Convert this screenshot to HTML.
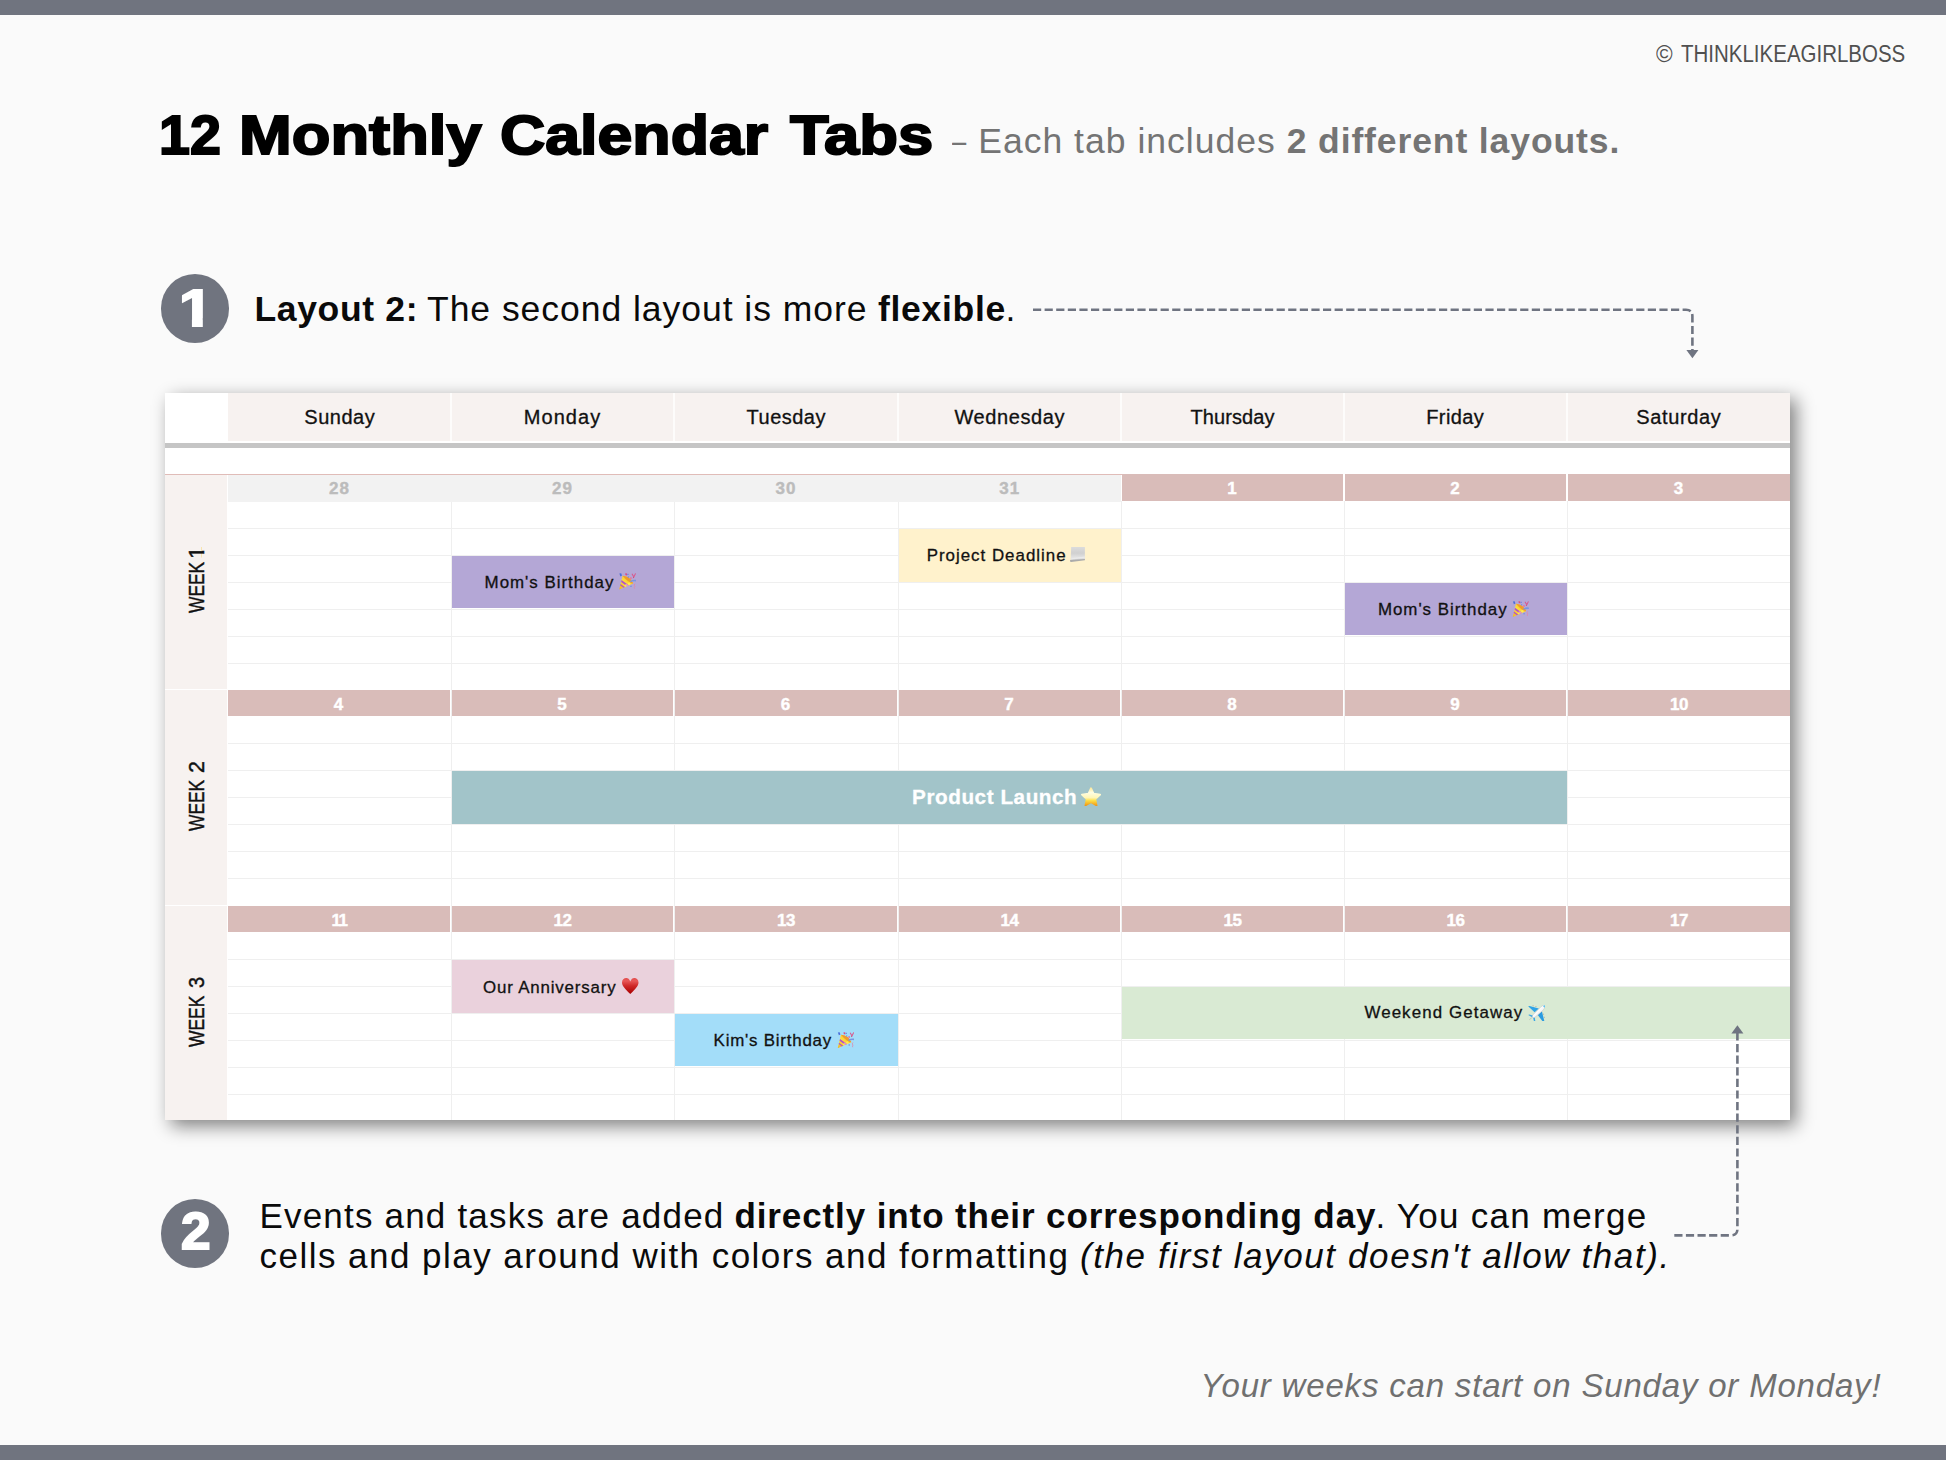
<!DOCTYPE html>
<html lang="en">
<head>
<meta charset="utf-8">
<title>12 Monthly Calendar Tabs</title>
<style>
html,body{margin:0;padding:0;}
body{width:1946px;height:1460px;position:relative;overflow:hidden;background:#fafafa;font-family:"Liberation Sans",sans-serif;color:#000;}
.bar{position:absolute;left:0;width:1946px;background:#70747f;}
#topbar{top:0;height:14.6px;}
#botbar{top:1445.4px;height:14.6px;}
.t{position:absolute;white-space:nowrap;line-height:1;display:block;}
.ln{margin:0;padding:0;font-size:inherit;font-weight:normal;}
.cp{color:#505050;transform-origin:0 50%;}
.ti{font-weight:bold;transform-origin:0 50%;-webkit-text-stroke:2px #000;}
.su{color:#747474;transform-origin:0 50%;}
.b{font-weight:bold;}
.i{font-style:italic;}
.bd{color:#0a0a0a;}
.ft{color:#707070;font-style:italic;}
.circle{position:absolute;width:68.6px;height:68.8px;border-radius:50%;background:#70747f;}
.cn{color:#fff;font-weight:bold;-webkit-text-stroke:2px #fff;transform-origin:0 50%;}
#c1{left:160.8px;top:273.8px;}
#c2{left:160.8px;top:1198.8px;}
#tbl{position:absolute;left:165px;top:393.4px;width:1625px;height:726.6px;background:#fff;box-shadow:6px 6px 17px rgba(0,0,0,0.49);}
#tbl div{position:absolute;box-sizing:border-box;}
#tbl .dh{background:#f7f2f0;}
#tbl .dt{color:#111;-webkit-text-stroke:0.3px #111;}
#tbl .et{-webkit-text-stroke:0.3px;}
#tbl .gl{background:#efefef;}
#tbl .wk{background:#f7f2f0;}
#tbl .wr{width:0;height:0;transform:rotate(-90deg);transform-origin:0 0;}
#tbl .wt{color:#111;transform-origin:0 50%;-webkit-text-stroke:0.45px #111;}
#tbl .dg{background:#f2f2f2;color:#bcbcbc;font-weight:bold;font-size:17px;text-align:center;line-height:27px;letter-spacing:1px;-webkit-text-stroke:0.4px #bcbcbc;}
#tbl .dp{background:#d9bcb9;color:#fff;font-weight:bold;font-size:17px;text-align:center;line-height:30px;letter-spacing:1px;-webkit-text-stroke:0.4px #fff;}
#tbl .em{position:absolute;}
#arrows{position:absolute;left:0;top:0;width:1946px;height:1460px;pointer-events:none;}
</style>
</head>
<body>
<div class="bar" id="topbar"></div>
<div class="bar" id="botbar"></div>
<div class="ln" id="copy"><span class="t cp" style="left:1655.80px;top:41.66px;font-size:24.5px;transform:scaleX(0.9222);">©</span> <span class="t cp" style="left:1681.00px;top:41.66px;font-size:24.5px;transform:scaleX(0.8362);">THINKLIKEAGIRLBOSS</span></div>
<h1 class="ln" id="title"><span class="t ti" style="left:158.64px;top:106.84px;font-size:56.3px;transform:scaleX(0.9878);">12</span> <span class="t ti" style="left:239.13px;top:106.84px;font-size:56.3px;transform:scaleX(1.1245);">Monthly</span> <span class="t ti" style="left:499.77px;top:106.84px;font-size:56.3px;transform:scaleX(1.1130);">Calendar</span> <span class="t ti" style="left:789.70px;top:106.84px;font-size:56.3px;transform:scaleX(1.1264);">Tabs</span></h1>
<div class="ln" id="sub"><span class="t su" style="left:952.20px;top:123.65px;font-size:35.5px;transform:scaleX(0.7200);">–</span> <span class="t su" style="left:978.20px;top:123.65px;font-size:35.5px;letter-spacing:1.026px;">Each tab includes</span> <span class="t su b" style="left:1286.70px;top:123.65px;font-size:35.5px;letter-spacing:0.892px;">2 different layouts.</span></div>
<div class="ln" id="l1"><span class="t bd b" style="left:254.40px;top:292.15px;font-size:35.5px;letter-spacing:0.666px;">Layout 2:</span> <span class="t bd" style="left:427.00px;top:292.15px;font-size:35.5px;letter-spacing:0.962px;">The second layout is more</span> <span class="t bd b" style="left:878.00px;top:292.15px;font-size:35.5px;letter-spacing:0.717px;">flexible</span> <span class="t bd" style="left:1005.50px;top:292.15px;font-size:35.5px;letter-spacing:0.000px;">.</span></div>
<div class="ln" id="p2a"><span class="t bd" style="left:259.40px;top:1197.97px;font-size:35px;letter-spacing:1.199px;">Events and tasks are added</span> <span class="t bd b" style="left:734.40px;top:1197.97px;font-size:35px;letter-spacing:0.899px;">directly into their corresponding day</span> <span class="t bd" style="left:1375.50px;top:1197.97px;font-size:35px;letter-spacing:1.262px;">. You can merge</span></div>
<div class="ln" id="p2b"><span class="t bd" style="left:259.50px;top:1237.97px;font-size:35px;letter-spacing:1.472px;">cells and play around with colors and formatting</span> <span class="t bd i" style="left:1079.90px;top:1237.97px;font-size:35px;letter-spacing:1.604px;">(the first layout doesn&#39;t allow that).</span></div>
<div class="ln" id="foot"><span class="t ft" style="left:1200.50px;top:1369.07px;font-size:33px;letter-spacing:0.814px;">Your weeks can start on Sunday or Monday!</span></div>
<div class="circle" id="c1"></div>
<div id="tbl">
<div class="dh" style="left:63px;top:0px;width:223px;height:47.9px;"></div>
<div class="dh" style="left:286px;top:0px;width:223px;height:47.9px;"></div>
<div class="dh" style="left:509px;top:0px;width:224px;height:47.9px;"></div>
<div class="dh" style="left:733px;top:0px;width:223px;height:47.9px;"></div>
<div class="dh" style="left:956px;top:0px;width:223px;height:47.9px;"></div>
<div class="dh" style="left:1179px;top:0px;width:223px;height:47.9px;"></div>
<div class="dh" style="left:1402px;top:0px;width:223px;height:47.9px;"></div>
<div style="left:285.4px;top:0px;width:1.5px;height:47.9px;background:rgba(255,255,255,.75);"></div>
<div style="left:508.4px;top:0px;width:1.5px;height:47.9px;background:rgba(255,255,255,.75);"></div>
<div style="left:732.4px;top:0px;width:1.5px;height:47.9px;background:rgba(255,255,255,.75);"></div>
<div style="left:955.4px;top:0px;width:1.5px;height:47.9px;background:rgba(255,255,255,.75);"></div>
<div style="left:1178.4px;top:0px;width:1.5px;height:47.9px;background:rgba(255,255,255,.75);"></div>
<div style="left:1401.4px;top:0px;width:1.5px;height:47.9px;background:rgba(255,255,255,.75);"></div>
<div style="left:0px;top:49.6px;width:1625px;height:4.7px;background:#c5c5c5;"></div>
<div style="left:0px;top:80.5px;width:957px;height:1.2px;background:#e0bcb8;"></div>
<div class="wk" style="left:0px;top:81.6px;width:62.3px;height:214.5px;"></div>
<div class="wr" style="left:15px;top:296.6px;"><div class="t wt" style="left:77.10px;top:5.88px;font-size:22px;transform:scaleX(0.7894);">WEEK</div><div class="t wt" style="left:130.84px;top:5.88px;font-size:22px;transform:scaleX(1.0500);clip-path:polygon(-3px -3px,15px -3px,15px 16.05px,7.8px 16.05px,7.8px 25px,5.1px 25px,5.1px 16.05px,-3px 16.05px);">1</div></div>
<div class="wk" style="left:0px;top:297.1px;width:62.3px;height:214.5px;"></div>
<div class="wr" style="left:15px;top:511.6px;"><div class="t wt" style="left:74.20px;top:5.88px;font-size:22px;transform:scaleX(0.7894);">WEEK</div><div class="t wt" style="left:131.53px;top:5.88px;font-size:22px;transform:scaleX(0.9727);">2</div></div>
<div class="wk" style="left:0px;top:512.9px;width:62.3px;height:213.7px;"></div>
<div class="wr" style="left:15px;top:727.6px;"><div class="t wt" style="left:74.10px;top:5.88px;font-size:22px;transform:scaleX(0.7925);">WEEK</div><div class="t wt" style="left:132.50px;top:5.88px;font-size:22px;transform:scaleX(0.9083);">3</div></div>
<div class="gl" style="left:63px;top:134.6px;width:1562px;height:1px;"></div>
<div class="gl" style="left:63px;top:161.6px;width:1562px;height:1px;"></div>
<div class="gl" style="left:63px;top:188.6px;width:1562px;height:1px;"></div>
<div class="gl" style="left:63px;top:215.6px;width:1562px;height:1px;"></div>
<div class="gl" style="left:63px;top:242.6px;width:1562px;height:1px;"></div>
<div class="gl" style="left:63px;top:269.6px;width:1562px;height:1px;"></div>
<div class="gl" style="left:63px;top:349.6px;width:1562px;height:1px;"></div>
<div class="gl" style="left:63px;top:376.6px;width:1562px;height:1px;"></div>
<div class="gl" style="left:63px;top:403.6px;width:1562px;height:1px;"></div>
<div class="gl" style="left:63px;top:430.6px;width:1562px;height:1px;"></div>
<div class="gl" style="left:63px;top:457.6px;width:1562px;height:1px;"></div>
<div class="gl" style="left:63px;top:484.6px;width:1562px;height:1px;"></div>
<div class="gl" style="left:63px;top:565.6px;width:1562px;height:1px;"></div>
<div class="gl" style="left:63px;top:592.6px;width:1562px;height:1px;"></div>
<div class="gl" style="left:63px;top:619.6px;width:1562px;height:1px;"></div>
<div class="gl" style="left:63px;top:646.6px;width:1562px;height:1px;"></div>
<div class="gl" style="left:63px;top:673.6px;width:1562px;height:1px;"></div>
<div class="gl" style="left:63px;top:700.6px;width:1562px;height:1px;"></div>
<div class="gl" style="left:285.6px;top:107.6px;width:1px;height:619px;"></div>
<div class="gl" style="left:508.6px;top:107.6px;width:1px;height:619px;"></div>
<div class="gl" style="left:732.6px;top:107.6px;width:1px;height:619px;"></div>
<div class="gl" style="left:955.6px;top:107.6px;width:1px;height:619px;"></div>
<div class="gl" style="left:1178.6px;top:107.6px;width:1px;height:619px;"></div>
<div class="gl" style="left:1401.6px;top:107.6px;width:1px;height:619px;"></div>
<div class="dg" style="left:63px;top:81.6px;width:223px;height:26.8px;">28</div>
<div class="dg" style="left:286px;top:81.6px;width:223px;height:26.8px;">29</div>
<div class="dg" style="left:509px;top:81.6px;width:224px;height:26.8px;">30</div>
<div class="dg" style="left:733px;top:81.6px;width:223.4px;height:26.8px;">31</div>
<div class="dp" style="left:957px;top:80.6px;width:221px;height:26.7px;">1</div>
<div class="dp" style="left:1180px;top:80.6px;width:221px;height:26.7px;">2</div>
<div class="dp" style="left:1403px;top:80.6px;width:222px;height:26.7px;">3</div>
<div class="dp" style="left:63px;top:296.6px;width:222px;height:26.3px;">4</div>
<div class="dp" style="left:287px;top:296.6px;width:221px;height:26.3px;">5</div>
<div class="dp" style="left:510px;top:296.6px;width:222px;height:26.3px;">6</div>
<div class="dp" style="left:734px;top:296.6px;width:221px;height:26.3px;">7</div>
<div class="dp" style="left:957px;top:296.6px;width:221px;height:26.3px;">8</div>
<div class="dp" style="left:1180px;top:296.6px;width:221px;height:26.3px;">9</div>
<div class="dp" style="left:1403px;top:296.6px;width:222px;height:26.3px;letter-spacing:-0.4px;">10</div>
<div class="dp" style="left:63px;top:512.6px;width:222px;height:26.3px;letter-spacing:-1.5px;">11</div>
<div class="dp" style="left:287px;top:512.6px;width:221px;height:26.3px;letter-spacing:-0.4px;">12</div>
<div class="dp" style="left:510px;top:512.6px;width:222px;height:26.3px;letter-spacing:-0.4px;">13</div>
<div class="dp" style="left:734px;top:512.6px;width:221px;height:26.3px;letter-spacing:-0.4px;">14</div>
<div class="dp" style="left:957px;top:512.6px;width:221px;height:26.3px;letter-spacing:-0.4px;">15</div>
<div class="dp" style="left:1180px;top:512.6px;width:221px;height:26.3px;letter-spacing:-0.4px;">16</div>
<div class="dp" style="left:1403px;top:512.6px;width:222px;height:26.3px;letter-spacing:-0.4px;">17</div>
<div class="ev" style="left:287px;top:162.6px;width:221.8px;height:52.5px;background:#b4a7d6;"></div>
<svg class="em" style="left:453.9px;top:180px;width:17.2px;height:17px" viewBox="0 0 172 170"><defs><linearGradient id="g1" x1="0" y1="1" x2="1" y2="0"><stop offset="0" stop-color="#f0b21e"/><stop offset=".45" stop-color="#fde23e"/><stop offset=".8" stop-color="#f6b52a"/><stop offset="1" stop-color="#ee7a30"/></linearGradient></defs><path d="M2 166 L36 28 Q112 36 142 106 Z" fill="url(#g1)"/><path d="M36 28 Q112 36 142 106 Q96 100 36 28Z" fill="#f09a2c"/><path d="M21 90 L26 71 L98 123 L79 133 Z" fill="#b455c4"/><path d="M12 124 L16 109 L58 141 L44 148 Z" fill="#b455c4"/><path d="M60 112 L72 108 L98 123 L79 133Z" fill="#f0a0d0" opacity=".8"/><circle cx="102" cy="108" r="13" fill="#fff65a" opacity=".7"/><circle cx="66" cy="128" r="10" fill="#fff65a" opacity=".6"/><path d="M4 6 L22 2 L30 26 L14 34Z" fill="#4a6fdc"/><path d="M60 4 L78 2 L82 24 L66 22Z" fill="#d84c86"/><rect x="84" y="8" width="11" height="12" fill="#5a7ee0"/><rect x="88" y="36" width="12" height="9" fill="#5a7ee0"/><path d="M130 8 L148 40 L166 4" stroke="#d95a8e" stroke-width="11" fill="none" stroke-linejoin="round"/><path d="M148 40 L142 52" stroke="#c2557f" stroke-width="10"/><rect x="112" y="42" width="14" height="20" fill="#ea6f9a"/><path d="M110 80 Q140 62 170 68 L170 84 Q140 80 114 92Z" fill="#7896e2"/><rect x="113" y="127" width="14" height="12" fill="#6a8ee0"/><path d="M158 108 q-12 14 0 26 q-8 10 -2 22" stroke="#e383a6" stroke-width="8" fill="none"/></svg>
<div class="ev" style="left:734px;top:135.6px;width:221.8px;height:52.7px;background:#fff2cc;"></div>
<svg class="em" style="left:905.1px;top:153.7px;width:15.1px;height:15.1px" viewBox="0 0 151 151"><defs><linearGradient id="g2" x1="0" y1="0" x2="0" y2="1"><stop offset="0" stop-color="#dcdcdc"/><stop offset=".45" stop-color="#d0d0d0"/><stop offset=".8" stop-color="#e4e4e4"/><stop offset="1" stop-color="#cfcfcf"/></linearGradient></defs><path d="M12 0 H149 V128 L6 136 Z" fill="url(#g2)"/><path d="M0 131 L149 119 V133 L4 151 Z" fill="#ababab"/><path d="M12 112 L149 96 V108 L10 124Z" fill="#ececec" opacity=".8"/></svg>
<div class="ev" style="left:1180px;top:189.6px;width:221.8px;height:52.3px;background:#b4a7d6;"></div>
<svg class="em" style="left:1347.1px;top:207.3px;width:17.6px;height:16.3px" viewBox="0 0 172 170"><defs><linearGradient id="g3" x1="0" y1="1" x2="1" y2="0"><stop offset="0" stop-color="#f0b21e"/><stop offset=".45" stop-color="#fde23e"/><stop offset=".8" stop-color="#f6b52a"/><stop offset="1" stop-color="#ee7a30"/></linearGradient></defs><path d="M2 166 L36 28 Q112 36 142 106 Z" fill="url(#g3)"/><path d="M36 28 Q112 36 142 106 Q96 100 36 28Z" fill="#f09a2c"/><path d="M21 90 L26 71 L98 123 L79 133 Z" fill="#b455c4"/><path d="M12 124 L16 109 L58 141 L44 148 Z" fill="#b455c4"/><path d="M60 112 L72 108 L98 123 L79 133Z" fill="#f0a0d0" opacity=".8"/><circle cx="102" cy="108" r="13" fill="#fff65a" opacity=".7"/><circle cx="66" cy="128" r="10" fill="#fff65a" opacity=".6"/><path d="M4 6 L22 2 L30 26 L14 34Z" fill="#4a6fdc"/><path d="M60 4 L78 2 L82 24 L66 22Z" fill="#d84c86"/><rect x="84" y="8" width="11" height="12" fill="#5a7ee0"/><rect x="88" y="36" width="12" height="9" fill="#5a7ee0"/><path d="M130 8 L148 40 L166 4" stroke="#d95a8e" stroke-width="11" fill="none" stroke-linejoin="round"/><path d="M148 40 L142 52" stroke="#c2557f" stroke-width="10"/><rect x="112" y="42" width="14" height="20" fill="#ea6f9a"/><path d="M110 80 Q140 62 170 68 L170 84 Q140 80 114 92Z" fill="#7896e2"/><rect x="113" y="127" width="14" height="12" fill="#6a8ee0"/><path d="M158 108 q-12 14 0 26 q-8 10 -2 22" stroke="#e383a6" stroke-width="8" fill="none"/></svg>
<div class="ev" style="left:287px;top:378.1px;width:1114.8px;height:52.5px;background:#a2c4c9;"></div>
<svg class="em" style="left:915.7px;top:393.2px;width:20.5px;height:19.8px" viewBox="0 0 205 198"><defs><linearGradient id="g4" x1="0" y1="0" x2="0" y2="1"><stop offset="0" stop-color="#fdeaa0"/><stop offset=".25" stop-color="#fffde2"/><stop offset=".55" stop-color="#fff6b8"/><stop offset=".72" stop-color="#fddf45"/><stop offset="1" stop-color="#f19a16"/></linearGradient></defs><path d="M100 12 L126 66 L192 76 L143 122 L156 184 L100 153 L44 184 L57 122 L9 76 L75 66 Z" fill="url(#g4)" stroke="url(#g4)" stroke-width="18" stroke-linejoin="round"/><path d="M100 12 L126 66 L192 76 L143 122 L156 184 L100 153 L44 184 L57 122 L9 76 L75 66 Z" fill="none" stroke="#f3b13a" stroke-width="4" stroke-linejoin="round" opacity=".0"/></svg>
<div class="ev" style="left:287px;top:566.6px;width:221.8px;height:53px;background:#ead1dc;"></div>
<svg class="em" style="left:457.2px;top:584.6px;width:16.5px;height:16px" viewBox="0 0 165 160"><defs><linearGradient id="g5" x1="0" y1="0" x2="0" y2="1"><stop offset="0" stop-color="#e24a4a"/><stop offset=".18" stop-color="#e85858"/><stop offset=".5" stop-color="#cf2828"/><stop offset="1" stop-color="#a90000"/></linearGradient></defs><path d="M83 159 C30 108 0 78 0 44 C0 18 20 0 43 0 C60 0 74 10 83 36 C92 10 106 0 123 0 C146 0 165 18 165 44 C165 78 136 108 83 159 Z" fill="url(#g5)"/></svg>
<div class="ev" style="left:510px;top:620.6px;width:222.8px;height:52.3px;background:#a3ddf9;"></div>
<svg class="em" style="left:671.6px;top:638.3px;width:17.8px;height:16.6px" viewBox="0 0 172 170"><defs><linearGradient id="g6" x1="0" y1="1" x2="1" y2="0"><stop offset="0" stop-color="#f0b21e"/><stop offset=".45" stop-color="#fde23e"/><stop offset=".8" stop-color="#f6b52a"/><stop offset="1" stop-color="#ee7a30"/></linearGradient></defs><path d="M2 166 L36 28 Q112 36 142 106 Z" fill="url(#g6)"/><path d="M36 28 Q112 36 142 106 Q96 100 36 28Z" fill="#f09a2c"/><path d="M21 90 L26 71 L98 123 L79 133 Z" fill="#b455c4"/><path d="M12 124 L16 109 L58 141 L44 148 Z" fill="#b455c4"/><path d="M60 112 L72 108 L98 123 L79 133Z" fill="#f0a0d0" opacity=".8"/><circle cx="102" cy="108" r="13" fill="#fff65a" opacity=".7"/><circle cx="66" cy="128" r="10" fill="#fff65a" opacity=".6"/><path d="M4 6 L22 2 L30 26 L14 34Z" fill="#4a6fdc"/><path d="M60 4 L78 2 L82 24 L66 22Z" fill="#d84c86"/><rect x="84" y="8" width="11" height="12" fill="#5a7ee0"/><rect x="88" y="36" width="12" height="9" fill="#5a7ee0"/><path d="M130 8 L148 40 L166 4" stroke="#d95a8e" stroke-width="11" fill="none" stroke-linejoin="round"/><path d="M148 40 L142 52" stroke="#c2557f" stroke-width="10"/><rect x="112" y="42" width="14" height="20" fill="#ea6f9a"/><path d="M110 80 Q140 62 170 68 L170 84 Q140 80 114 92Z" fill="#7896e2"/><rect x="113" y="127" width="14" height="12" fill="#6a8ee0"/><path d="M158 108 q-12 14 0 26 q-8 10 -2 22" stroke="#e383a6" stroke-width="8" fill="none"/></svg>
<div class="ev" style="left:957px;top:593.6px;width:668px;height:52.5px;background:#d9ead3;"></div>
<svg class="em" style="left:1362.85px;top:611.3px;width:17.25px;height:16.7px" viewBox="0 0 172 167"><defs><linearGradient id="g7" x1="0" y1="0" x2="1" y2="1"><stop offset="0" stop-color="#c9c9cf"/><stop offset=".4" stop-color="#ffffff"/><stop offset=".62" stop-color="#f1f1f4"/><stop offset="1" stop-color="#b9b9c2"/></linearGradient></defs><path d="M40 4 l14 -2 l4 12z M68 12 l14 -1 l4 12z M150 84 l12 6 l-8 12z M160 114 l10 8 l-10 10z" fill="#b5ad9c"/><path d="M1 13 L15 9 L108 36 L66 73 Z" fill="#2fa3e6"/><path d="M139 63 L163 161 L148 167 L98 100 Z" fill="#2a9be0"/><path d="M2 100 L12 96 L56 108 L46 124 Z" fill="#3aa6e6"/><path d="M50 122 L66 114 L73 162 L60 167 Z" fill="#3aa6e6"/><path d="M14 146 L38 128" stroke="#b5b2a8" stroke-width="7"/><path d="M168 4 C176 14 166 36 148 54 L70 122 C58 130 46 128 44 122 C40 116 44 104 54 94 L130 18 C146 2 162 -2 168 4 Z" fill="url(#g7)" stroke="#b4b4bc" stroke-width="4"/><path d="M168 4 C172 9 171 18 166 28 L150 12 C158 4 164 1 168 4Z" fill="#5cc4f2"/></svg>
<div class="t dt" style="left:139.35px;top:13.57px;font-size:20px;letter-spacing:0.494px;">Sunday</div>
<div class="t dt" style="left:358.75px;top:13.57px;font-size:20px;letter-spacing:1.070px;">Monday</div>
<div class="t dt" style="left:581.60px;top:13.57px;font-size:20px;letter-spacing:0.472px;">Tuesday</div>
<div class="t dt" style="left:789.40px;top:13.57px;font-size:20px;letter-spacing:0.618px;">Wednesday</div>
<div class="t dt" style="left:1025.40px;top:13.57px;font-size:20px;letter-spacing:0.119px;">Thursday</div>
<div class="t dt" style="left:1261.25px;top:13.57px;font-size:20px;letter-spacing:0.387px;">Friday</div>
<div class="t dt" style="left:1471.35px;top:13.57px;font-size:20px;letter-spacing:0.607px;">Saturday</div>
<div class="t et" style="left:319.60px;top:181.39px;font-size:16.9px;letter-spacing:0.999px;color:#111;">Mom&#39;s Birthday</div>
<div class="t et" style="left:761.70px;top:154.59px;font-size:16.9px;letter-spacing:0.997px;color:#111;">Project Deadline</div>
<div class="t et" style="left:1212.90px;top:208.19px;font-size:16.9px;letter-spacing:0.991px;color:#111;">Mom&#39;s Birthday</div>
<div class="t et" style="left:747.10px;top:393.78px;font-size:20.7px;letter-spacing:0.552px;font-weight:bold;color:#fff;">Product Launch</div>
<div class="t et" style="left:318.00px;top:586.29px;font-size:16.9px;letter-spacing:0.823px;color:#111;">Our Anniversary</div>
<div class="t et" style="left:548.60px;top:639.39px;font-size:16.9px;letter-spacing:0.787px;color:#111;">Kim&#39;s Birthday</div>
<div class="t et" style="left:1199.40px;top:611.99px;font-size:16.9px;letter-spacing:1.103px;color:#111;">Weekend Getaway</div>
</div>
<svg id="arrows" viewBox="0 0 1946 1460">
<g fill="none" stroke="#6f7481" stroke-width="2.6" stroke-dasharray="8.2 3.4">
<path d="M1033 309.8 H1686 Q1692.4 309.8 1692.4 316.2 V351"/>
<path d="M1674.3 1235.4 H1731 Q1737.4 1235.4 1737.4 1229 V1033"/>
</g>
<path d="M1686.4 350 H1698.4 L1692.4 358.3 Z" fill="#6f7481"/>
<path d="M1731.4 1033.6 H1743.4 L1737.4 1025.3 Z" fill="#6f7481"/>
</svg>
<div class="circle" id="c2"></div>
<div class="t cn" style="left:178.74px;top:282.53px;font-size:51px;transform:scaleX(1.1965);clip-path:polygon(-5px -5px,40px -5px,40px 35.77px,19.9px 35.77px,19.9px 60px,10.8px 60px,10.8px 35.77px,-5px 35.77px);">1</div>
<div class="t cn" style="left:180.57px;top:1206.01px;font-size:51.5px;transform:scaleX(1.0308);">2</div>
</body>
</html>
